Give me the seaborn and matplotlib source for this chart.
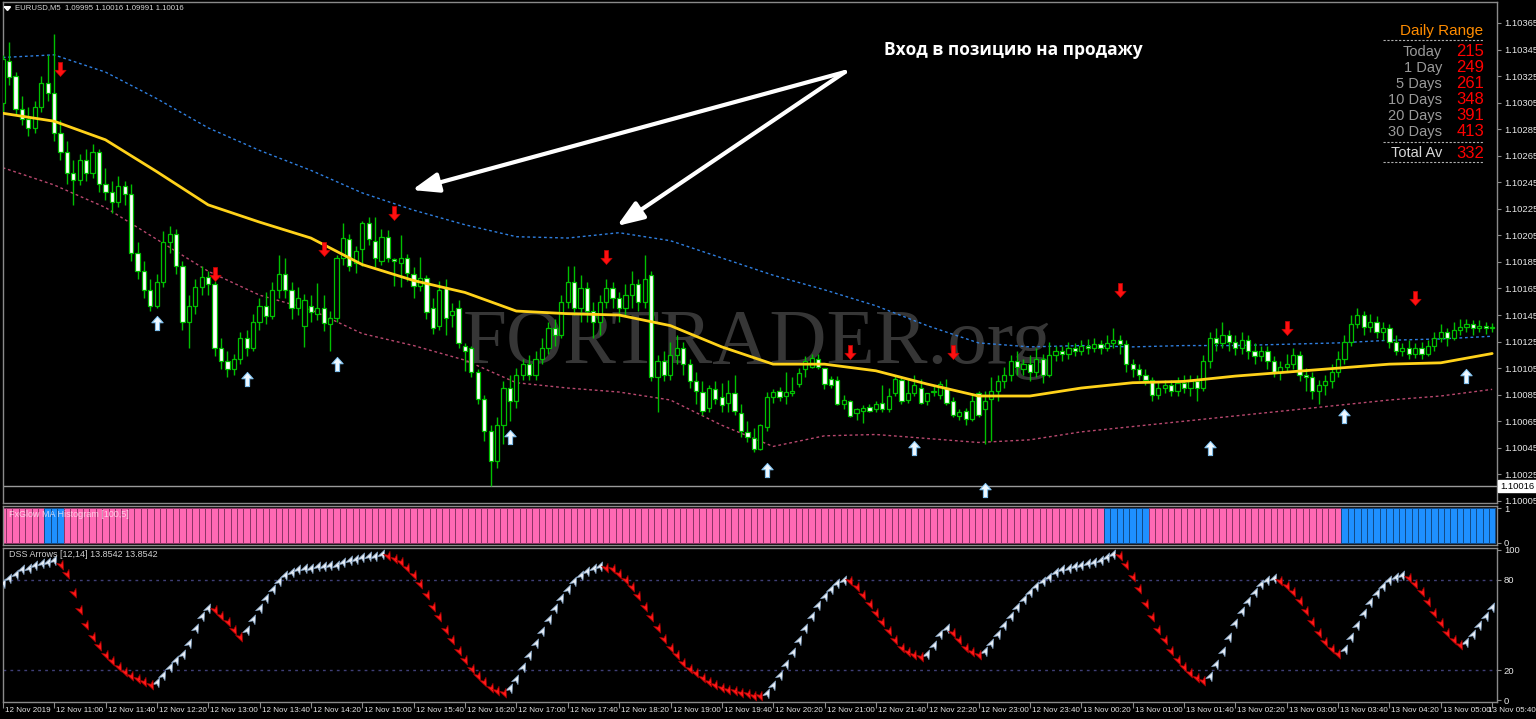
import matplotlib
matplotlib.use("Agg")
import numpy as np
import pandas as pd
import matplotlib.pyplot as plt
import matplotlib.transforms as mtransforms
from matplotlib.path import Path
import seaborn as sns

W, H = 1536, 719

# EURUSD M5, first bar 12 Nov 10:20; prices in points above 1.10000
opens = [305, 336, 325, 300, 293, 286, 302, 320, 312, 282,
         268, 252, 247, 262, 252, 268, 244, 238, 230, 242,
         236, 192, 178, 164, 152, 170, 200, 206, 182, 140,
         152, 166, 174, 168, 120, 110, 104, 112, 128, 120,
         140, 152, 144, 164, 176, 164, 150, 137, 152, 146,
         150, 138, 143, 188, 202, 184, 195, 214, 201, 186,
         204, 187, 184, 188, 176, 167, 173, 150, 137, 165,
         145, 150, 122, 120, 102, 82, 58, 35, 62, 90,
         80, 100, 108, 100, 112, 120, 135, 130, 155, 170,
         150, 165, 148, 140, 155, 165, 158, 150, 160, 168,
         155, 175, 98, 110, 100, 115, 120, 108, 95, 87,
         75, 89, 83, 79, 86, 71, 57, 52, 44, 61,
         83, 88, 84, 86, 93, 104, 106, 112, 105, 97,
         96, 78, 80, 71, 73, 76, 74, 79, 74, 86,
         96, 81, 86, 90, 80, 87, 85, 90, 80, 69,
         73, 67, 86, 74, 82, 88, 95, 100, 110, 104,
         108, 102, 112, 100, 115, 118, 116, 120, 118, 122,
         120, 123, 120, 124, 126, 123, 108, 104, 100, 96,
         85, 90, 92, 88, 94, 90, 95, 90, 110, 128,
         124, 130, 125, 120, 126, 118, 114, 118, 110, 102,
         106, 108, 115, 100, 98, 88, 92, 95, 102, 112,
         125, 138, 145, 136, 140, 132, 135, 125, 118, 120,
         116, 120, 116, 122, 128, 132, 128, 134, 136, 138,
         135, 137, 135]
highs = [341, 351, 328, 310, 302, 306, 325, 341, 357, 292,
         276, 262, 266, 270, 274, 270, 256, 246, 250, 246,
         244, 200, 186, 172, 176, 208, 212, 210, 186, 160,
         172, 182, 178, 171, 128, 118, 116, 132, 134, 146,
         158, 162, 170, 190, 188, 170, 166, 161, 160, 169,
         160, 148, 190, 214, 206, 197, 216, 219, 219, 210,
         209, 188, 205, 191, 181, 189, 175, 158, 171, 172,
         154, 156, 124, 122, 104, 85, 62, 68, 95, 100,
         105, 112, 115, 118, 128, 140, 142, 160, 182, 182,
         175, 170, 155, 160, 172, 170, 162, 168, 178, 172,
         190, 178, 115, 118, 125, 130, 125, 112, 102, 95,
         92, 95, 94, 96, 100, 78, 65, 60, 63, 87,
         89, 91, 102, 98, 105, 114, 116, 116, 105, 99,
         99, 85, 81, 75, 77, 78, 80, 92, 90, 99,
         99, 97, 100, 97, 86, 92, 95, 97, 83, 74,
         75, 86, 88, 88, 98, 100, 106, 115, 118, 112,
         115, 120, 116, 125, 122, 122, 125, 124, 126, 127,
         128, 126, 130, 135, 130, 126, 112, 108, 104, 98,
         95, 96, 96, 98, 100, 100, 100, 115, 132, 135,
         140, 134, 130, 132, 130, 124, 122, 122, 114, 110,
         116, 120, 118, 105, 102, 96, 100, 108, 118, 130,
         145, 150, 148, 146, 144, 140, 138, 130, 124, 126,
         124, 125, 126, 132, 138, 135, 140, 142, 142, 141,
         141, 140, 139]
lows = [298, 318, 296, 288, 280, 282, 298, 306, 276, 262,
        244, 228, 243, 246, 248, 238, 232, 222, 226, 228,
        186, 172, 158, 148, 150, 166, 192, 176, 134, 120,
        146, 160, 160, 114, 104, 98, 100, 108, 114, 118,
        134, 138, 142, 158, 158, 142, 145, 121, 140, 141,
        133, 118, 140, 183, 178, 177, 182, 198, 181, 183,
        185, 167, 166, 171, 158, 163, 142, 131, 134, 130,
        136, 120, 103, 98, 78, 50, 16, 30, 48, 65,
        75, 96, 96, 96, 108, 116, 122, 128, 150, 145,
        140, 140, 128, 130, 150, 150, 140, 145, 150, 148,
        150, 95, 72, 95, 96, 108, 100, 90, 78, 70,
        72, 78, 72, 72, 70, 53, 49, 42, 43, 58,
        79, 80, 78, 84, 91, 98, 105, 104, 89, 90,
        77, 74, 68, 66, 64, 72, 72, 72, 72, 84,
        78, 79, 84, 78, 77, 84, 82, 77, 68, 66,
        62, 65, 68, 48, 50, 80, 90, 95, 100, 100,
        95, 98, 94, 98, 110, 110, 112, 114, 115, 116,
        117, 116, 118, 120, 116, 102, 98, 96, 92, 80,
        82, 86, 84, 84, 86, 84, 80, 88, 105, 118,
        120, 118, 115, 116, 112, 108, 110, 104, 98, 96,
        102, 104, 95, 88, 82, 78, 85, 90, 98, 108,
        122, 135, 130, 132, 128, 126, 120, 115, 114, 112,
        113, 112, 114, 118, 125, 122, 126, 130, 132, 130,
        132, 131, 132]
closes = [338, 324, 300, 293, 286, 302, 320, 312, 282, 268,
          252, 247, 262, 252, 268, 244, 238, 230, 242, 236,
          192, 178, 164, 152, 170, 200, 206, 182, 140, 152,
          166, 174, 168, 120, 110, 104, 112, 128, 120, 140,
          152, 144, 164, 176, 164, 150, 158, 156, 147, 150,
          139, 143, 188, 203, 182, 193, 214, 202, 188, 204,
          188, 186, 188, 177, 167, 173, 147, 135, 164, 143,
          148, 124, 118, 102, 82, 58, 35, 62, 90, 80,
          100, 108, 100, 112, 120, 135, 130, 155, 170, 150,
          165, 148, 140, 155, 165, 158, 150, 160, 168, 155,
          172, 98, 110, 100, 115, 120, 108, 95, 88, 73,
          90, 82, 77, 86, 73, 58, 53, 44, 62, 83,
          87, 83, 87, 88, 101, 110, 113, 106, 93, 92,
          78, 81, 69, 74, 75, 73, 78, 74, 84, 97,
          80, 86, 92, 79, 86, 88, 93, 79, 70, 72,
          67, 80, 70, 80, 88, 95, 100, 110, 106, 108,
          102, 112, 100, 115, 118, 116, 120, 118, 122, 120,
          123, 120, 124, 126, 123, 108, 104, 100, 96, 85,
          90, 92, 88, 94, 90, 95, 90, 110, 128, 124,
          130, 125, 120, 126, 118, 114, 118, 110, 102, 106,
          108, 115, 100, 98, 88, 92, 95, 102, 112, 125,
          138, 145, 136, 140, 132, 135, 125, 118, 120, 116,
          120, 116, 122, 128, 132, 128, 134, 136, 138, 135,
          137, 135, 136]

# moving average and envelope, read every 8 bars
ma_bars = list(range(0, 233, 8))
ma_mid = [297, 291, 277, 253, 228, 215, 203, 183, 171, 162, 148, 146, 145, 137, 121,
          108, 108, 103, 93, 84, 84, 90, 94, 95, 99, 102, 105, 108, 109, 116]
ma_up = [339, 341, 328, 308, 286, 269, 254, 237, 224, 213, 204, 203, 207, 201, 188,
         175, 164, 152, 137, 124, 121, 122, 121, 122, 122, 123, 124, 126, 127, 129]
ma_dn = [256, 243, 226, 202, 178, 160, 149, 131, 122, 111, 94, 90, 87, 81, 62,
         46, 54, 55, 52, 49, 51, 57, 61, 65, 69, 73, 77, 81, 84, 89]

sell_bars = [9, 33, 50, 61, 94, 132, 148, 174, 200, 220]
sell_pts = [330, 176, 195, 222, 189, 117, 117, 164, 135, 158]
buy_bars = [24, 38, 52, 79, 119, 142, 153, 188, 209, 228]
buy_pts = [139, 97, 108, 53, 28, 45, 13, 45, 69, 99]

bid = 1.10016
price_ticks = [1.10365, 1.10345, 1.10325, 1.10305, 1.10285, 1.10265, 1.10245,
               1.10225, 1.10205, 1.10185, 1.10165, 1.10145, 1.10125, 1.10105,
               1.10085, 1.10065, 1.10045, 1.10025, 1.10005]

# FxGlow MA Histogram colour runs
hist_runs = [("pink", 7), ("blue", 3), ("pink", 162), ("blue", 7), ("pink", 30), ("blue", 24)]

# DSS Arrows
dss = [78, 81, 84, 87, 88, 90, 91, 92, 93, 90,
       84, 71, 60, 50, 42, 36, 30, 26, 22, 19,
       16, 14, 12, 10, 12, 17, 22, 27, 31, 38,
       48, 56, 61, 60, 56, 52, 47, 42, 47, 54,
       61, 68, 74, 79, 83, 85, 87, 88, 88, 89,
       89, 90, 90, 92, 93, 94, 95, 96, 96, 97,
       96, 94, 92, 88, 83, 77, 70, 62, 55, 47,
       40, 33, 27, 21, 16, 12, 8, 6, 5, 8,
       14, 22, 30, 38, 46, 54, 61, 68, 74, 79,
       83, 86, 88, 89, 88, 87, 84, 80, 75, 69,
       62, 55, 48, 41, 35, 30, 25, 21, 18, 15,
       12, 10, 8, 7, 6, 5, 4, 3, 3, 5,
       10, 17, 24, 32, 40, 48, 56, 63, 69, 74,
       78, 80, 79, 75, 70, 64, 58, 52, 46, 40,
       35, 32, 30, 29, 31, 37, 44, 48, 45, 40,
       35, 32, 30, 33, 38, 44, 50, 56, 62, 67,
       72, 76, 79, 82, 85, 87, 88, 89, 90, 91,
       92, 93, 95, 97, 96, 90, 82, 74, 64, 55,
       47, 40, 33, 27, 22, 18, 15, 13, 16, 24,
       33, 42, 51, 59, 66, 72, 77, 80, 81, 79,
       76, 72, 66, 59, 52, 45, 39, 34, 31, 34,
       42, 50, 58, 65, 71, 76, 80, 82, 83, 81,
       77, 72, 65, 58, 51, 45, 40, 37, 39, 44,
       50, 56, 62]
dss_runs = [("up", 9), ("dn", 15), ("up", 9), ("dn", 5), ("up", 22), ("dn", 19),
            ("up", 15), ("dn", 25), ("up", 13), ("dn", 12), ("up", 4), ("dn", 5),
            ("up", 21), ("dn", 14), ("up", 11), ("dn", 10), ("up", 10), ("dn", 9), ("up", 5)]

time_labels = ["12 Nov 2019", "12 Nov 11:00", "12 Nov 11:40", "12 Nov 12:20", "12 Nov 13:00",
               "12 Nov 13:40", "12 Nov 14:20", "12 Nov 15:00", "12 Nov 15:40", "12 Nov 16:20",
               "12 Nov 17:00", "12 Nov 17:40", "12 Nov 18:20", "12 Nov 19:00", "12 Nov 19:40",
               "12 Nov 20:20", "12 Nov 21:00", "12 Nov 21:40", "12 Nov 22:20", "12 Nov 23:00",
               "12 Nov 23:40", "13 Nov 00:20", "13 Nov 01:00", "13 Nov 01:40", "13 Nov 02:20",
               "13 Nov 03:00", "13 Nov 03:40", "13 Nov 04:20", "13 Nov 05:00", "13 Nov 05:40"]

range_names = ["Today", "1 Day", "5 Days", "10 Days", "20 Days", "30 Days"]
range_vals = [215, 249, 261, 348, 391, 413]
range_avg = 332


def pts(v):
    return 1.1 + np.asarray(v, dtype=float) / 1e5


def px(x, y):
    return x / W, 1 - y / H


def panel(y0, y1):
    return [3 / W, 1 - y1 / H, 1494 / W, (y1 - y0) / H]


sns.set_theme(style="dark", rc={"axes.facecolor": "black", "figure.facecolor": "black",
                                "axes.edgecolor": "#8a8a8a", "axes.linewidth": 1.0,
                                "axes.grid": False})
plt.rcParams["font.family"] = ["Liberation Sans", "DejaVu Sans"]

fig = plt.figure(figsize=(W / 100, H / 100), dpi=100)
ax = fig.add_axes(panel(2, 503))
axh = fig.add_axes(panel(506, 545))
axd = fig.add_axes(panel(548, 702))

xlo, xhi = (3 - 2.7) / 6.42, (1497 - 2.7) / 6.42
for a in (ax, axh, axd):
    a.set_facecolor("black")
    a.set_xlim(xlo, xhi)
    a.set_xticks([])
    for s in a.spines.values():
        s.set_color("#8a8a8a")
        s.set_linewidth(1)
    a.yaxis.tick_right()
    a.tick_params(axis="y", right=True, left=False, length=3, width=0.8, color="#8a8a8a",
                  labelcolor="#e6e6e6", labelsize=6.8, pad=2)

# ---- main price panel
ax.set_ylim(1.100034, 1.103808)
ax.set_yticks(price_ticks)
ax.set_yticklabels([f"{p:.5f}" for p in price_ticks])

# watermark inside the price axes so candles sit on top of it
ax.text(*px(757, 344), "FORTRADER.org", transform=fig.transFigure, ha="center", va="center",
        fontsize=57, family="Liberation Serif", color="#363636", zorder=0)

idx = np.arange(len(closes))
o, h, l, c = pts(opens), pts(highs), pts(lows), pts(closes)
bull = c >= o
green = "#00c000"
ax.vlines(idx, l, h, color=green, lw=1, zorder=3)
body = np.maximum(np.abs(c - o), 0.000004)
ax.bar(idx, body, bottom=np.minimum(o, c), width=0.66,
       color=np.where(bull, "black", "white"), edgecolor=green, linewidth=0.9, zorder=4)

ax.axhline(bid, color="#9a9a9a", lw=1, zorder=2)

ma = pd.DataFrame({"bar": ma_bars, "mid": pts(ma_mid), "up": pts(ma_up), "dn": pts(ma_dn)})
sns.lineplot(data=ma, x="bar", y="up", ax=ax, color="#2f7fe0", lw=1, linestyle=(0, (2, 2)), zorder=2)
sns.lineplot(data=ma, x="bar", y="dn", ax=ax, color="#b8486e", lw=1, linestyle=(0, (2, 2)), zorder=2)
sns.lineplot(data=ma, x="bar", y="mid", ax=ax, color="#ffd21a", lw=2, zorder=5)

down_arrow = Path([(0, -1), (0.8, -0.1), (0.3, -0.1), (0.3, 1), (-0.3, 1), (-0.3, -0.1),
                   (-0.8, -0.1), (0, -1)],
                  [Path.MOVETO] + [Path.LINETO] * 6 + [Path.CLOSEPOLY])
up_arrow = Path([(0, 1), (0.8, 0.1), (0.3, 0.1), (0.3, -1), (-0.3, -1), (-0.3, 0.1),
                 (-0.8, 0.1), (0, 1)],
                [Path.MOVETO] + [Path.LINETO] * 6 + [Path.CLOSEPOLY])
sns.scatterplot(x=sell_bars, y=pts(sell_pts), ax=ax, marker=down_arrow, s=105,
                color="#ff1010", edgecolor="#c00000", linewidth=0.4, zorder=6)
sns.scatterplot(x=buy_bars, y=pts(buy_pts), ax=ax, marker=up_arrow, s=105,
                color="#eef8ff", edgecolor="#7cc0f0", linewidth=0.7, zorder=6)
ax.set_xlabel("")
ax.set_ylabel("")
ax.set_xlim(xlo, xhi)

ax.text(1.002, bid, f"{bid:.5f}", transform=ax.get_yaxis_transform(), ha="left", va="center",
        fontsize=6.8, color="black", zorder=10, clip_on=False,
        bbox=dict(facecolor="white", edgecolor="white", pad=1.2))

# header
fig.text(*px(15, 8), "EURUSD,M5  1.09995 1.10016 1.09991 1.10016", fontsize=5.6,
         color="#d8d8d8", va="center", ha="left")
fig.lines.append(plt.Line2D([5 / W, 7.5 / W, 10 / W, 5 / W],
                            [1 - 7 / H, 1 - 10 / H, 1 - 7 / H, 1 - 7 / H],
                            color="white", lw=1.5, transform=fig.transFigure))

# annotation
fig.text(*px(1013, 50), "Вход в позицию на продажу", fontsize=12.5, fontweight="bold",
         family=["Open Sans", "DejaVu Sans"], color="white", ha="center", va="center")
for tip in [(412, 190), (617, 226)]:
    ax.annotate("", xy=(tip[0], H - tip[1]), xytext=(845, H - 72), xycoords="figure pixels",
                textcoords="figure pixels",
                arrowprops=dict(arrowstyle="-|>,head_length=0.8,head_width=0.3", lw=3,
                                color="white", mutation_scale=20, shrinkA=0, shrinkB=0))

# daily range box
fig.text(*px(1483, 31), "Daily Range", fontsize=11, color="#ff8c00", ha="right", va="center")
for yy in (40, 142, 162):
    fig.lines.append(plt.Line2D([1383 / W, 1483 / W], [1 - yy / H, 1 - yy / H], color="#b0b0b0",
                                lw=0.8, ls=(0, (2, 1.5)), transform=fig.transFigure))
row_y = [52, 68, 84, 100, 116, 132]
for name, val, yy in zip(range_names, range_vals, row_y):
    fig.text(*px(1442, yy), name, fontsize=10.5, color="#9a9a9a", ha="right", va="center")
    fig.text(*px(1484, yy), str(val), fontsize=12, color="#ff0000", ha="right", va="center")
fig.text(*px(1442, 153), "Total Av", fontsize=10.5, color="#d8d8d8", ha="right", va="center")
fig.text(*px(1484, 153), str(range_avg), fontsize=12, color="#ff0000", ha="right", va="center")

# ---- histogram panel
hist_cols = []
for name, n in hist_runs:
    hist_cols += [name] * n
hist = pd.DataFrame({"bar": idx, "val": 1.0, "col": hist_cols})
cmap = {"pink": "#ff69b4", "blue": "#1e90ff"}
emap = {"pink": "#8c3566", "blue": "#124a86"}
axh.bar(hist["bar"], hist["val"], width=1.0, color=hist["col"].map(cmap),
        edgecolor=hist["col"].map(emap), linewidth=0.7, zorder=2)
axh.set_ylim(-0.06, 1.06)
axh.set_yticks([0, 1])
axh.set_yticklabels(["0", "1"])
axh.text(6 / 1494, 0.78, "FxGlow MA Histogram [100,5]", transform=axh.transAxes, fontsize=6.5,
         color="#fff0f8", alpha=0.75, ha="left", va="center", zorder=3)

# ---- DSS panel
dirs = []
for name, n in dss_runs:
    dirs += [name] * n
dd = pd.DataFrame({"bar": idx, "dss": dss, "dir": dirs})
axd.set_ylim(-1.33, 101.33)
for lev in (20, 80):
    axd.axhline(lev, color="#3f3f78", lw=1, ls=(0, (2, 3)), zorder=1)
head = Path([(0, 1), (0.7, -0.8), (0, -0.3), (-0.7, -0.8), (0, 1)],
            [Path.MOVETO, Path.LINETO, Path.LINETO, Path.LINETO, Path.CLOSEPOLY])
up_head = mtransforms.Affine2D().rotate_deg(-25).transform_path(head)
dn_head = mtransforms.Affine2D().rotate_deg(180 + 25).transform_path(head)
sns.scatterplot(data=dd[dd["dir"] == "up"], x="bar", y="dss", ax=axd, marker=up_head, s=55,
                color="#e8eef6", edgecolor="#7f9fc0", linewidth=0.5, zorder=3)
sns.scatterplot(data=dd[dd["dir"] == "dn"], x="bar", y="dss", ax=axd, marker=dn_head, s=55,
                color="#ff1818", edgecolor="#a00000", linewidth=0.5, zorder=3)
axd.set_xlabel("")
axd.set_ylabel("")
axd.set_xlim(xlo, xhi)
axd.set_yticks([0, 20, 80, 100])
axd.set_yticklabels(["0", "20", "80", "100"])
axd.text(6 / 1494, 0.96, "DSS Arrows [12,14] 13.8542 13.8542", transform=axd.transAxes,
         fontsize=6.5, color="#d0d0d0", ha="left", va="center")

tick_bars = list(range(0, 233, 8))
axd.set_xticks(tick_bars)
axd.tick_params(axis="x", bottom=True, direction="out", length=4, width=0.8, color="#8a8a8a",
                labelbottom=False)
lab_tr = mtransforms.offset_copy(axd.get_xaxis_transform(), fig=fig, x=2, y=-8, units="dots")
for b, lab in zip(tick_bars[:-1], time_labels[:-1]):
    axd.text(b, 0, lab, transform=lab_tr, fontsize=5.8, color="#e6e6e6", ha="left", va="center",
             clip_on=False)
fig.text(*px(1536, 710), time_labels[-1], fontsize=5.8, color="#e6e6e6", ha="right", va="center")

fig.savefig("out.png", dpi=100, facecolor="black")
